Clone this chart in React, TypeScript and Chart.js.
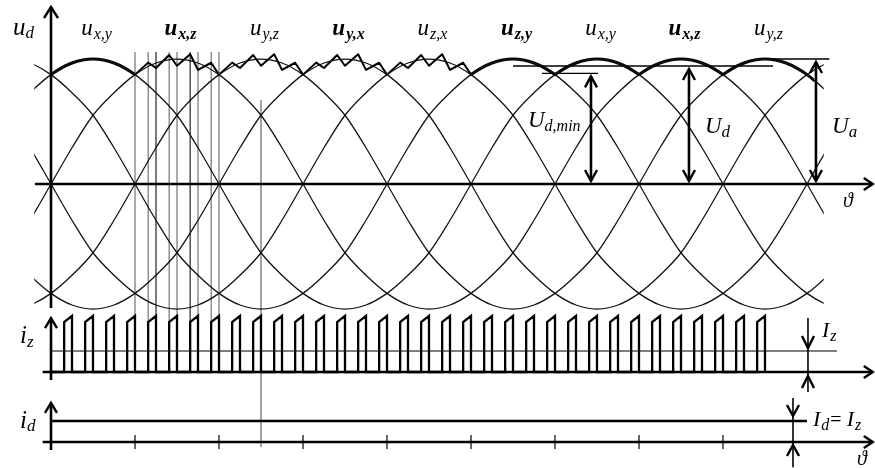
import React, { useEffect, useRef } from "react";
import { Chart, registerables } from "chart.js";

Chart.register(...registerables);

// Shape of one line-to-line voltage, per unit, sampled every 15° starting at its crest
const waveStepDeg = 15;
const waveShape = [
  1, 0.968, 0.875, 0.73, 0.55, 0.29, 0, -0.29, -0.55, -0.73, -0.875, -0.968,
  -1, -0.968, -0.875, -0.73, -0.55, -0.29, 0, 0.29, 0.55, 0.73, 0.875, 0.968,
];

// Crest angles (deg) of the six line voltages and the span they are drawn over
const crestAngles = [30, 90, 150, 210, 270, 330];
const curveSpan = [-12, 552];

// Names written above each crest of the rectified voltage
const crestLabels = ["x,y", "x,z", "y,z", "y,x", "z,x", "z,y", "x,y", "x,z", "y,z"];
const crestLabelBold = [false, true, false, true, false, true, false, true, false];
const crestLabelAngles = [30, 90, 150, 210, 270, 330, 390, 450, 510];

// Smooth parts of u_d: [crest angle, from, to]
const envelopeSegments = [
  [30, 0, 60],
  [330, 300, 360],
  [390, 360, 420],
  [450, 420, 480],
  [510, 480, 545],
];

// Chopped parts of u_d (start angles, 60° each)
const choppedStarts = [60, 120, 180, 240];
const choppedEdgeLevel = 0.875;
const choppedPeakLevels = [0.971, 1.032, 1.038, 0.97];
const choppedValleyLevels = [0.928, 0.946, 0.913];

// Transistor current pulses i_z
const pulseCount = 34;
const pulsePeriodDeg = 15;
const pulseWidthDeg = 5.6;
const pulseRiseLevel = 2.38;
const pulseFallLevel = 2.67;
const izMeanLevel = 1;
const izMeanSpan = [0, 561.4];
const idLevel = 1;
const idSpan = [0, 540];

// Switching instants marked across the upper plots
const markerAngles = [60, 69.4, 75, 84.4, 90, 99.4, 105, 114.4, 120];
const markerDarkAngles = [75, 99.4];
const longMarkerAngle = 150;

// Voltage levels and where their dimension arrows sit
const uaLevel = 1.0;
const uaLineSpan = [513.6, 556];
const uaArrowAt = 546.4;
const udLevel = 0.944;
const udLineSpan = [330, 515.7];
const udArrowAt = 455.7;
const udMinLevel = 0.885;
const udMinLineSpan = [350.7, 390.7];
const udMinArrowAt = 385.7;
const izArrowAt = 540.7;
const idArrowAt = 530;

// Ticks on the i_d time axis
const idTicks = [60, 120, 180, 240, 300, 360, 420, 480];

const FONT = '"Liberation Serif", "DejaVu Serif", "Times New Roman", serif';

const shapeAt = (theta: number, crest: number) => {
  const off = ((((theta - crest) % 360) + 360) % 360) / waveStepDeg;
  return waveShape[Math.round(off) % waveShape.length];
};

function buildDatasets() {
  const ds: any[] = [];
  const base = {
    pointRadius: 0,
    fill: false,
    borderColor: "#000",
    borderJoinStyle: "round",
  };

  // thin line voltages
  crestAngles.forEach((c) => {
    const pts: { x: number; y: number }[] = [];
    for (let t = -30; t <= 570; t += waveStepDeg) pts.push({ x: t, y: shapeAt(t, c) });
    ds.push({
      ...base,
      data: pts,
      yAxisID: "y",
      borderWidth: 1.25,
      borderColor: "#111",
      cubicInterpolationMode: "monotone",
      xRange: curveSpan,
    });
  });

  // thick smooth parts of u_d
  envelopeSegments.forEach(([c, a, b]) => {
    const pts: { x: number; y: number }[] = [];
    for (let t = c - 45; t <= c + 45; t += waveStepDeg) pts.push({ x: t, y: shapeAt(t, c) });
    ds.push({
      ...base,
      data: pts,
      yAxisID: "y",
      borderWidth: 3,
      cubicInterpolationMode: "monotone",
      xRange: [a, b],
    });
  });

  // chopped u_d
  const chop: { x: number; y: number }[] = [];
  choppedStarts.forEach((s, si) => {
    if (si === 0) chop.push({ x: s, y: choppedEdgeLevel });
    choppedPeakLevels.forEach((p, j) => {
      const end = s + pulsePeriodDeg * (j + 1);
      chop.push({ x: end - pulseWidthDeg, y: p });
      chop.push({ x: end, y: j < choppedValleyLevels.length ? choppedValleyLevels[j] : choppedEdgeLevel });
    });
  });
  ds.push({ ...base, data: chop, yAxisID: "y", borderWidth: 2, tension: 0 });

  // level lines
  [
    [uaLevel, uaLineSpan],
    [udLevel, udLineSpan],
    [udMinLevel, udMinLineSpan],
  ].forEach(([lv, sp]: any) => {
    ds.push({
      ...base,
      data: [
        { x: sp[0], y: lv },
        { x: sp[1], y: lv },
      ],
      yAxisID: "y",
      borderWidth: 1.3,
    });
  });

  // i_z pulses
  const pulses: { x: number; y: number }[] = [{ x: 0, y: 0 }];
  for (let j = 0; j < pulseCount; j++) {
    const e = pulsePeriodDeg * (j + 1);
    const s = e - pulseWidthDeg;
    pulses.push({ x: s, y: 0 }, { x: s, y: pulseRiseLevel }, { x: e, y: pulseFallLevel }, { x: e, y: 0 });
  }
  ds.push({ ...base, data: pulses, yAxisID: "yIz", borderWidth: 2.3, tension: 0, borderJoinStyle: "miter" });

  // mean of i_z
  ds.push({
    ...base,
    data: [
      { x: izMeanSpan[0], y: izMeanLevel },
      { x: izMeanSpan[1], y: izMeanLevel },
    ],
    yAxisID: "yIz",
    borderWidth: 1.2,
  });

  // i_d
  ds.push({
    ...base,
    data: [
      { x: idSpan[0], y: idLevel },
      { x: idSpan[1], y: idLevel },
    ],
    yAxisID: "yId",
    borderWidth: 2.4,
  });

  return ds;
}

// clip a dataset to its own angle range
const rangeClip = {
  id: "rangeClip",
  beforeDatasetDraw(chart: any, args: any) {
    const d = chart.data.datasets[args.index];
    if (!d.xRange) return;
    const X = chart.scales.x;
    const a = X.getPixelForValue(d.xRange[0]);
    const b = X.getPixelForValue(d.xRange[1]);
    const ctx = chart.ctx;
    ctx.save();
    ctx.beginPath();
    ctx.rect(a, 0, b - a, chart.height);
    ctx.clip();
  },
  afterDatasetDraw(chart: any, args: any) {
    const d = chart.data.datasets[args.index];
    if (d.xRange) chart.ctx.restore();
  },
};

function seg(ctx: CanvasRenderingContext2D, x1: number, y1: number, x2: number, y2: number, w: number, color = "#000") {
  ctx.strokeStyle = color;
  ctx.lineWidth = w;
  ctx.beginPath();
  ctx.moveTo(x1, y1);
  ctx.lineTo(x2, y2);
  ctx.stroke();
}

function head(ctx: CanvasRenderingContext2D, tx: number, ty: number, dx: number, dy: number, len = 11, half = 6, w = 2.4) {
  // open chevron pointing in direction (dx, dy)
  const px = -dy;
  const py = dx;
  ctx.strokeStyle = "#000";
  ctx.lineWidth = w;
  ctx.lineJoin = "miter";
  ctx.beginPath();
  ctx.moveTo(tx - dx * len + px * half, ty - dy * len + py * half);
  ctx.lineTo(tx, ty);
  ctx.lineTo(tx - dx * len - px * half, ty - dy * len - py * half);
  ctx.stroke();
}

type Run = { t: string; size: number; bold?: boolean; upright?: boolean; dy?: number; dx?: number };

function runs(ctx: CanvasRenderingContext2D, list: Run[], x: number, y: number, center = false) {
  const fontOf = (r: Run) => `${r.upright ? "" : "italic "}${r.bold ? "bold " : ""}${r.size}px ${FONT}`;
  let total = 0;
  list.forEach((r) => {
    ctx.font = fontOf(r);
    total += ctx.measureText(r.t).width + (r.dx || 0);
  });
  let cx = center ? x - total / 2 : x;
  ctx.fillStyle = "#000";
  ctx.textBaseline = "alphabetic";
  ctx.textAlign = "left";
  list.forEach((r) => {
    ctx.font = fontOf(r);
    cx += r.dx || 0;
    ctx.fillText(r.t, cx, y + (r.dy || 0));
    cx += ctx.measureText(r.t).width;
  });
}

const decorations = {
  id: "decorations",
  beforeDatasetsDraw(chart: any) {
    const { ctx } = chart;
    const X = chart.scales.x;
    const Y = chart.scales.y;
    const Z = chart.scales.yIz;
    const D = chart.scales.yId;
    ctx.save();
    markerAngles.forEach((a) => {
      const dark = markerDarkAngles.includes(a);
      seg(ctx, X.getPixelForValue(a), Y.getPixelForValue(1.056), X.getPixelForValue(a), Z.getPixelForValue(0), dark ? 1.2 : 1.1, dark ? "#222" : "#666");
    });
    seg(ctx, X.getPixelForValue(longMarkerAngle), Y.getPixelForValue(0.672), X.getPixelForValue(longMarkerAngle), D.getPixelForValue(-0.24), 1.1, "#555");
    ctx.restore();
  },
  afterDatasetsDraw(chart: any) {
    const { ctx } = chart;
    const X = chart.scales.x;
    const Y = chart.scales.y;
    const Z = chart.scales.yIz;
    const D = chart.scales.yId;
    const px = (v: number) => X.getPixelForValue(v);
    ctx.save();
    ctx.lineCap = "butt";

    // u_d axes
    const y0 = Y.getPixelForValue(0);
    const xEnd = px(587);
    seg(ctx, px(-11.5), y0, xEnd, y0, 2.6);
    head(ctx, xEnd, y0, 1, 0, 9, 6);
    seg(ctx, px(0), Y.getPixelForValue(-0.992), px(0), Y.getPixelForValue(1.416), 2.6);
    head(ctx, px(0), Y.getPixelForValue(1.416), 0, -1, 11, 7);

    // i_z axes
    const z0 = Z.getPixelForValue(0);
    seg(ctx, px(-6), z0, xEnd, z0, 2.6);
    head(ctx, xEnd, z0, 1, 0, 9, 6);
    seg(ctx, px(0), Z.getPixelForValue(-0.38), px(0), Z.getPixelForValue(2.57), 2.6);
    head(ctx, px(0), Z.getPixelForValue(2.57), 0, -1, 10, 6);

    // i_d axes
    const d0 = D.getPixelForValue(0);
    seg(ctx, px(-6), d0, xEnd, d0, 2.6);
    head(ctx, xEnd, d0, 1, 0, 9, 6);
    seg(ctx, px(0), D.getPixelForValue(-0.38), px(0), D.getPixelForValue(1.86), 2.6);
    head(ctx, px(0), D.getPixelForValue(1.86), 0, -1, 10, 6);
    idTicks.forEach((t) => seg(ctx, px(t), D.getPixelForValue(0.33), px(t), D.getPixelForValue(-0.33), 1.2));

    // dimension arrows of the voltage levels
    [
      [udMinArrowAt, udMinLevel],
      [udArrowAt, udLevel],
      [uaArrowAt, uaLevel],
    ].forEach(([at, lv]) => {
      const x = px(at);
      const top = Y.getPixelForValue(lv) + 3;
      const bot = y0 - 3;
      seg(ctx, x, top, x, bot, 2.6);
      head(ctx, x, top, 0, -1, 11, 6);
      head(ctx, x, bot, 0, 1, 11, 6);
    });

    // I_z arrows
    {
      const x = px(izArrowAt);
      seg(ctx, x, Z.getPixelForValue(2.57), x, Z.getPixelForValue(-0.95), 1.6);
      head(ctx, x, Z.getPixelForValue(izMeanLevel) - 3, 0, 1, 12, 6);
      head(ctx, x, z0 + 4, 0, -1, 12, 6);
    }
    // I_d arrows
    {
      const x = px(idArrowAt);
      seg(ctx, x, D.getPixelForValue(2.1), x, D.getPixelForValue(-1.2), 1.6);
      head(ctx, x, D.getPixelForValue(idLevel) - 5, 0, 1, 11, 6);
      head(ctx, x, d0 + 3, 0, -1, 11, 6);
    }

    // text
    runs(ctx, [{ t: "u", size: 25 }, { t: "d", size: 17, dy: 3 }], px(-27.1), Y.getPixelForValue(1.19));
    crestLabels.forEach((s, i) => {
      const b = crestLabelBold[i];
      runs(
        ctx,
        [
          { t: "u", size: 23, bold: b },
          { t: s, size: 16, bold: b, dy: 4, dx: 1 },
        ],
        px(crestLabelAngles[i] + 2.5),
        Y.getPixelForValue(1.19),
        true
      );
    });
    runs(ctx, [{ t: "U", size: 23 }, { t: "d,min", size: 16, dy: 4 }], px(340.7), Y.getPixelForValue(0.456));
    runs(ctx, [{ t: "U", size: 23 }, { t: "d", size: 17, dy: 4 }], px(467.1), Y.getPixelForValue(0.408));
    runs(ctx, [{ t: "U", size: 23 }, { t: "a", size: 17, dy: 4 }], px(557.9), Y.getPixelForValue(0.408));
    runs(ctx, [{ t: "\u03D1", size: 20 }], px(565.7), Y.getPixelForValue(-0.184));
    runs(ctx, [{ t: "i", size: 25 }, { t: "z", size: 17, dy: 4 }], px(-22.1), Z.getPixelForValue(1.38));
    runs(ctx, [{ t: "i", size: 25 }, { t: "d", size: 17, dy: 3 }], px(-22.1), D.getPixelForValue(0.667));
    runs(ctx, [{ t: "I", size: 22 }, { t: "z", size: 16, dy: 4, dx: 1 }], px(550.7), Z.getPixelForValue(1.67));
    runs(
      ctx,
      [
        { t: "I", size: 22 },
        { t: "d", size: 16, dy: 4, dx: 1 },
        { t: "=", size: 20, upright: true, dx: 1 },
        { t: "I", size: 22, dx: 5 },
        { t: "z", size: 16, dy: 4, dx: 1 },
      ],
      px(544.3),
      D.getPixelForValue(0.76)
    );
    runs(ctx, [{ t: "\u03D1", size: 20 }], px(575.7), D.getPixelForValue(-1.1));

    ctx.restore();
  },
};

export default function App() {
  const ref = useRef<HTMLCanvasElement | null>(null);

  useEffect(() => {
    const canvas = ref.current;
    if (!canvas) return;
    const hidden = { display: false };
    const chart = new Chart(canvas, {
      type: "line",
      data: { datasets: buildDatasets() },
      options: {
        responsive: false,
        animation: false,
        devicePixelRatio: 1,
        events: [],
        layout: { padding: 0 },
        plugins: { legend: { display: false }, tooltip: { enabled: false } },
        scales: {
          x: { type: "linear", min: -36.4286, max: 588.5714, ...hidden },
          y: { type: "linear", min: -2.272, max: 1.472, ...hidden },
          yIz: { type: "linear", min: -4.5714, max: 17.7143, ...hidden },
          yId: { type: "linear", min: -1.2381, max: 21.0476, ...hidden },
        },
      } as any,
      plugins: [rangeClip, decorations],
    });
    return () => chart.destroy();
  }, []);

  return (
    <div style={{ position: "fixed", left: 0, top: 0, width: 875, height: 468, background: "#fff" }}>
      <canvas ref={ref} width={875} height={468} />
    </div>
  );
}
